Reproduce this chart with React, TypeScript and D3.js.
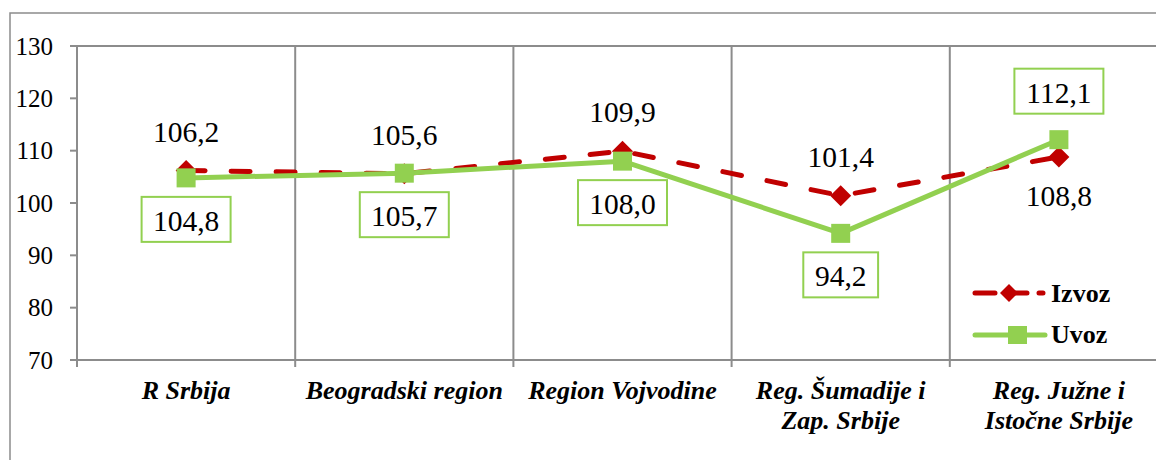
import * as d3 from "d3";

const categories = [
  "R Srbija",
  "Beogradski region",
  "Region Vojvodine",
  "Reg. Šumadije i\nZap. Srbije",
  "Reg. Južne i\nIstočne Srbije",
];
const izvoz = [106.2, 105.6, 109.9, 101.4, 108.8];
const uvoz = [104.8, 105.7, 108.0, 94.2, 112.1];
const yTicks = [70, 80, 90, 100, 110, 120, 130];

const W = 1156;
const H = 460;
const RED = "#C00000";
const GREEN = "#92D050";
const GRID = "#8c8c8c";
const SERIF = "Liberation Serif";

const fmt = (v: number) => v.toFixed(1).replace(".", ",");

export default function App() {
  const left = 77, right = 1168, top = 46, bottom = 360;
  const x = d3.scaleBand<string>().domain(categories).range([left, right]);
  const y = d3.scaleLinear().domain([70, 130]).range([bottom, top]);
  const cx = (c: string) => (x(c) ?? 0) + x.bandwidth() / 2;

  const line = d3
    .line<number>()
    .x((_, i) => cx(categories[i]))
    .y((d) => y(d));

  const bounds = categories.map((c) => x(c) ?? 0).concat([right]);
  const last = categories.length - 1;

  const diamond = (px: number, py: number, r: number) =>
    `M${px},${py - r}L${px + r},${py}L${px},${py + r}L${px - r},${py}Z`;

  return (
    <svg
      width={W}
      height={H}
      fontFamily={SERIF}
      style={{ position: "absolute", left: 0, top: 0, display: "block", background: "#fff" }}
    >
      <style>{`text, tspan { font-family: "Liberation Serif", serif !important; }`}</style>
      {/* outer chart border */}
      <rect x={10} y={13} width={1200} height={520} fill="none" stroke={GRID} strokeWidth={1.5} />

      {/* plot frame */}
      <line x1={left} x2={right} y1={top} y2={top} stroke={GRID} strokeWidth={2} />
      {bounds.slice(1, -1).map((b, i) => (
        <line key={"g" + i} x1={b} x2={b} y1={top} y2={bottom} stroke={GRID} strokeWidth={2} />
      ))}
      <line x1={left} x2={left} y1={top} y2={bottom} stroke={GRID} strokeWidth={2} />
      <line x1={left} x2={right} y1={bottom} y2={bottom} stroke={GRID} strokeWidth={2} />
      {bounds.map((b, i) => (
        <line key={"bt" + i} x1={b} x2={b} y1={bottom} y2={bottom + 7} stroke={GRID} strokeWidth={2} />
      ))}

      {/* y axis ticks */}
      {yTicks.map((t) => (
        <g key={t}>
          <line x1={left - 7} x2={left} y1={y(t)} y2={y(t)} stroke={GRID} strokeWidth={2} />
          <text x={53} y={y(t)} dy="0.34em" textAnchor="end" fontSize={25} fill="#000" fontFamily={SERIF}>
            {t}
          </text>
        </g>
      ))}

      {/* category labels */}
      {categories.map((c) => (
        <text
          key={c}
          x={cx(c)}
          y={399}
          textAnchor="middle"
          fontSize={26}
          fontWeight="bold"
          fontStyle="italic"
          fill="#000"
          fontFamily={SERIF}
        >
          {c.split("\n").map((ln, j) => (
            <tspan key={j} x={cx(c)} dy={j === 0 ? 0 : 30}>
              {ln}
            </tspan>
          ))}
        </text>
      ))}

      {/* Izvoz */}
      <path
        d={line(izvoz) ?? ""}
        fill="none"
        stroke={RED}
        strokeWidth={5}
        strokeDasharray="19 26"
        strokeLinecap="round"
        strokeLinejoin="round"
      />
      {izvoz.map((v, i) => (
        <path key={"d" + i} d={diamond(cx(categories[i]), y(v), 10.5)} fill={RED} />
      ))}

      {/* Uvoz */}
      <path d={line(uvoz) ?? ""} fill="none" stroke={GREEN} strokeWidth={5} strokeLinejoin="round" />
      {uvoz.map((v, i) => (
        <rect key={"s" + i} x={cx(categories[i]) - 9.5} y={y(v) - 9.5} width={19} height={19} fill={GREEN} />
      ))}

      {/* Izvoz labels */}
      {izvoz.map((v, i) => (
        <text
          key={"li" + i}
          x={cx(categories[i])}
          y={i === last ? y(v) + 49 : y(v) - 29}
          textAnchor="middle"
          fontSize={29.5}
          fill="#000"
          fontFamily={SERIF}
        >
          {fmt(v)}
        </text>
      ))}

      {/* Uvoz labels */}
      {uvoz.map((v, i) => {
        const px = cx(categories[i]);
        const label = fmt(v);
        const bw = label.length * 14.2 + 18;
        const bh = 45;
        const by = i === last ? y(v) - 26 - bh : y(v) + 19;
        return (
          <g key={"lu" + i}>
            <rect x={px - bw / 2} y={by} width={bw} height={bh} fill="#fff" stroke={GREEN} strokeWidth={2} />
            <text x={px} y={by + 34} textAnchor="middle" fontSize={29.5} fill="#000" fontFamily={SERIF}>
              {label}
            </text>
          </g>
        );
      })}

      {/* legend */}
      <line x1={975} x2={1043} y1={293} y2={293} stroke={RED} strokeWidth={5} strokeDasharray="20 12" strokeLinecap="round" />
      <path d={diamond(1009, 293, 9)} fill={RED} />
      <text x={1051} y={302} fontSize={26} fontWeight="bold" fill="#000" fontFamily={SERIF}>
        Izvoz
      </text>
      <line x1={975} x2={1045} y1={335} y2={335} stroke={GREEN} strokeWidth={5} strokeLinecap="round" />
      <rect x={1008} y={326} width={19} height={18} fill={GREEN} />
      <text x={1051} y={343} fontSize={26} fontWeight="bold" fill="#000" fontFamily={SERIF}>
        Uvoz
      </text>
    </svg>
  );
}
